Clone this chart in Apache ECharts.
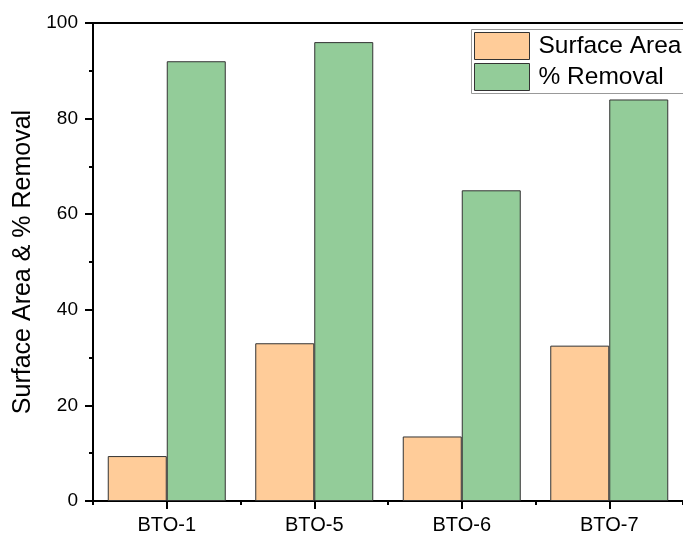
<!DOCTYPE html>
<html>
<head>
<meta charset="utf-8">
<script src="https://cdn.jsdelivr.net/npm/echarts@6/dist/echarts.min.js"></script>
<style>
  html, body { margin: 0; padding: 0; background: #fff; overflow: hidden; }
  #chart { width: 683px; height: 535px; }
</style>
</head>
<body>
<div id="chart"></div>
<script>
// Samples and measured values
const categories = ['BTO-1', 'BTO-5', 'BTO-6', 'BTO-7'];
const surfaceArea = [9.4, 33.0, 13.5, 32.5];
const removal = [92, 96, 65, 84];
const yTicks = { min: 0, max: 100, interval: 20 };

const FONT = '"Liberation Sans", Arial, sans-serif';
const chart = echarts.init(document.getElementById('chart'), null, { renderer: 'canvas' });

chart.setOption({
  animation: false,
  backgroundColor: '#fff',
  grid: { left: 93, top: 23, width: 592, bottom: 34, show: false },
  // legend frame, running past the right edge of the canvas
  graphic: [{
    type: 'rect',
    left: 471, top: 29, z: 1,
    shape: { width: 260, height: 64 },
    style: { fill: '#fff', stroke: '#999', lineWidth: 1 }
  }],
  legend: {
    orient: 'vertical',
    left: 471, top: 29, z: 5,
    padding: [3, 3, 3, 3],
    itemWidth: 55, itemHeight: 27, itemGap: 3,
    borderWidth: 0,
    icon: 'rect',
    itemStyle: { borderColor: '#333', borderWidth: 1 },
    textStyle: { fontFamily: FONT, fontSize: 24.5, color: '#000', padding: [0, 0, 0, 4] },
    data: ['Surface Area', '% Removal']
  },
  xAxis: [
    {
      type: 'category',
      data: categories,
      axisLine: { show: true, lineStyle: { color: '#000', width: 2 } },
      axisTick: { show: true, alignWithLabel: true, length: 8, lineStyle: { color: '#000', width: 2 } },
      axisLabel: { fontFamily: FONT, fontSize: 20, color: '#000', margin: 14 },
      splitLine: { show: false }
    },
    {
      // short ticks at the category boundaries
      type: 'category',
      data: categories,
      position: 'bottom',
      axisLine: { show: false },
      axisTick: { show: true, length: 4, lineStyle: { color: '#000', width: 2 } },
      axisLabel: { show: false },
      splitLine: { show: false }
    },
    {
      // top frame line
      type: 'category',
      data: categories,
      position: 'top',
      axisLine: { show: true, lineStyle: { color: '#000', width: 2 } },
      axisTick: { show: false },
      axisLabel: { show: false },
      splitLine: { show: false }
    }
  ],
  yAxis: {
    type: 'value',
    min: yTicks.min, max: yTicks.max, interval: yTicks.interval,
    name: 'Surface Area & % Removal',
    nameLocation: 'middle',
    nameGap: 53,
    nameTextStyle: { fontFamily: FONT, fontSize: 25, color: '#000' },
    axisLine: { show: true, lineStyle: { color: '#000', width: 2 } },
    axisTick: { show: true, length: 8, lineStyle: { color: '#000', width: 2 } },
    minorTick: { show: true, splitNumber: 2, length: 4, lineStyle: { color: '#000', width: 2 } },
    axisLabel: { fontFamily: FONT, fontSize: 19, color: '#000', margin: 15 },
    splitLine: { show: false }
  },
  series: [
    {
      name: 'Surface Area',
      type: 'bar',
      data: surfaceArea,
      barGap: '0%',
      barCategoryGap: '20%',
      itemStyle: { color: '#FFCC99', borderColor: '#333', borderWidth: 1 }
    },
    {
      name: '% Removal',
      type: 'bar',
      data: removal,
      barGap: '0%',
      barCategoryGap: '20%',
      itemStyle: { color: '#93CC99', borderColor: '#333', borderWidth: 1 }
    }
  ]
});
</script>
</body>
</html>
